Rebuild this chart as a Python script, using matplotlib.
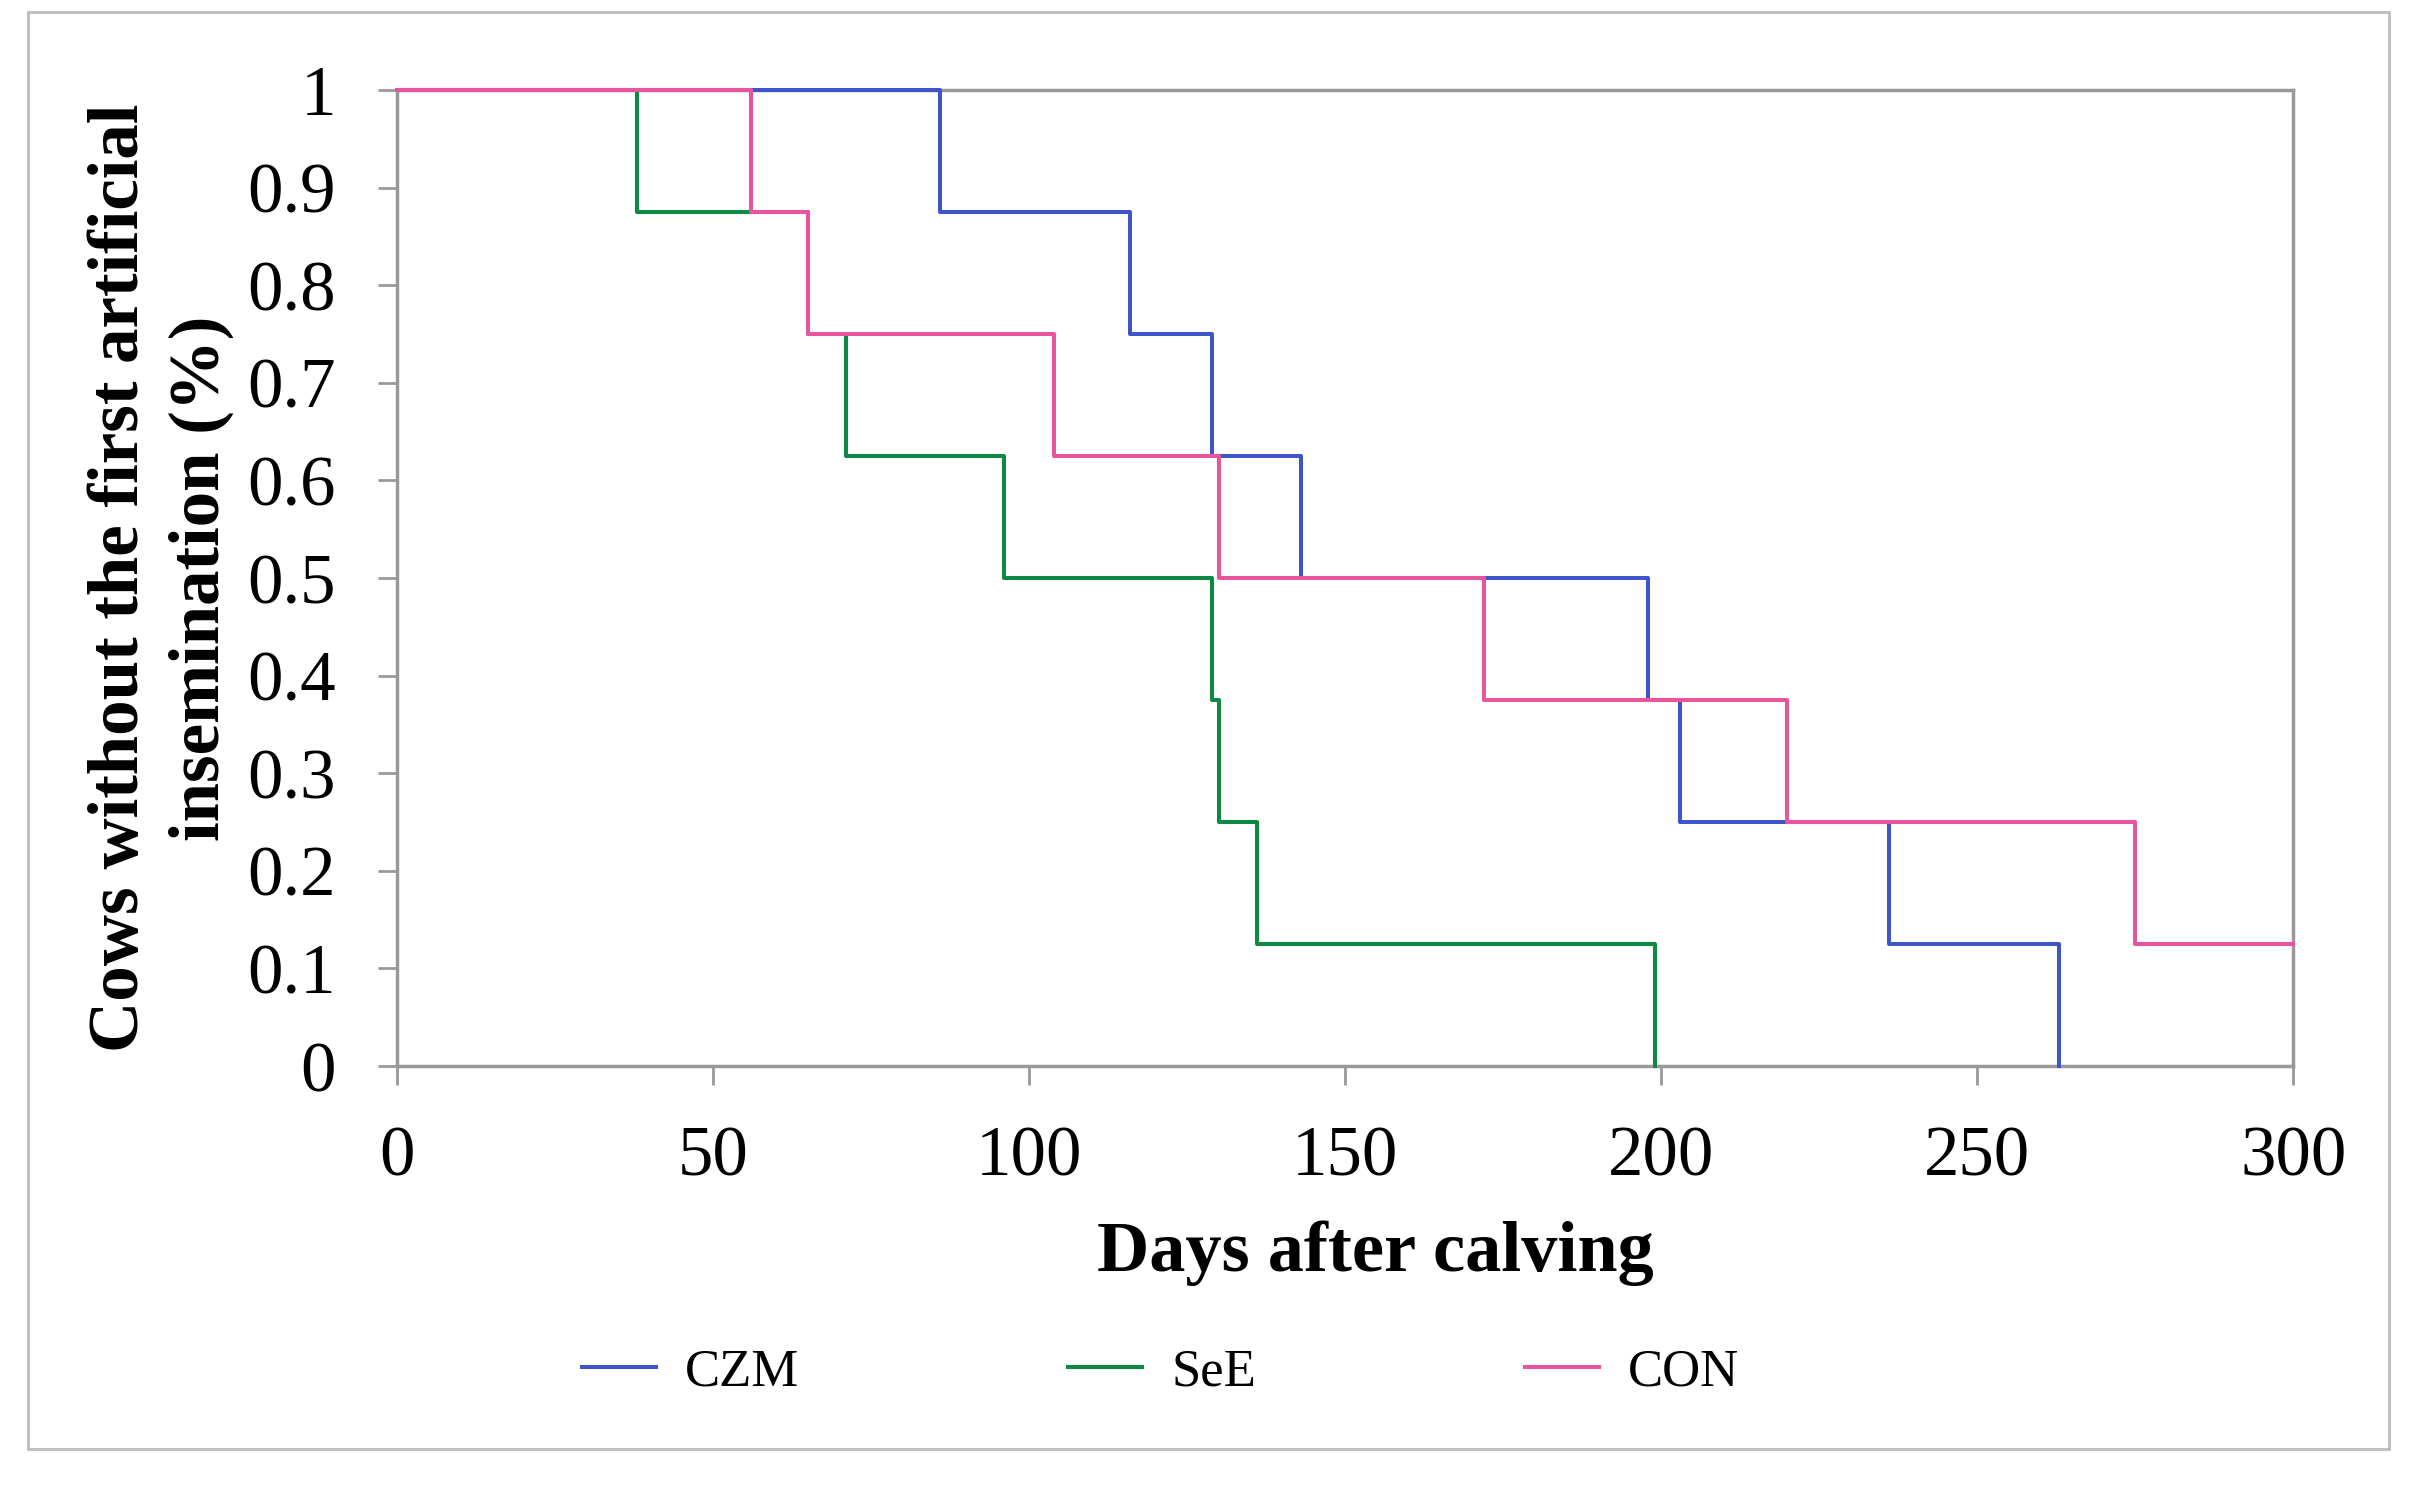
import matplotlib.pyplot as plt
from matplotlib.patches import Rectangle

plt.rcParams['font.family'] = ['Liberation Serif', 'DejaVu Serif']

# step curves: day of each drop and the proportion left after it
czm_days = [0, 86, 116, 129, 143, 198, 203, 236, 263]
czm_surv = [1, 0.875, 0.75, 0.625, 0.5, 0.375, 0.25, 0.125, 0]
see_days = [0, 38, 65, 71, 96, 129, 130, 136, 199]
see_surv = [1, 0.875, 0.75, 0.625, 0.5, 0.375, 0.25, 0.125, 0]
con_days = [0, 56, 65, 104, 130, 172, 220, 275, 300]
con_surv = [1, 0.875, 0.75, 0.625, 0.5, 0.375, 0.25, 0.125, 0.125]

labels = ['CZM', 'SeE', 'CON']
colors = ['#3d55c8', '#0c8a42', '#e6559d']

xticks = [0, 50, 100, 150, 200, 250, 300]
yticks = [0, 0.1, 0.2, 0.3, 0.4, 0.5, 0.6, 0.7, 0.8, 0.9, 1]
ytick_labels = ['0', '0.1', '0.2', '0.3', '0.4', '0.5', '0.6', '0.7', '0.8', '0.9', '1']

fig = plt.figure(figsize=(24.23, 14.86), dpi=100)
ax = fig.add_axes([0.1638, 0.2826, 0.7826, 0.6568])

series = [(czm_days, czm_surv), (see_days, see_surv), (con_days, con_surv)]
for (d, s), lab, c in zip(series, labels, colors):
    ax.step(d, s, where='post', color=c, lw=2.9, label=lab, clip_on=False)

ax.set_xlim(0, 300)
ax.set_ylim(0, 1)
ax.set_xticks(xticks)
ax.set_yticks(yticks)
ax.set_yticklabels(ytick_labels)

for sp in ax.spines.values():
    sp.set_color('#999999')
    sp.set_linewidth(2.5)
    sp.set_zorder(0)
ax.tick_params(axis='both', colors='#999999', length=14, width=2, labelcolor='black',
               labelsize=51)
ax.tick_params(axis='y', pad=30)
ax.tick_params(axis='x', pad=29)

ax.set_xlabel('Days after calving', fontsize=52, fontweight='bold')
ax.xaxis.set_label_coords(0.516, -0.158)
ax.set_ylabel('Cows without the first artificial\ninsemination (%)', fontsize=51,
              fontweight='bold', linespacing=1.3)
ax.yaxis.set_label_coords(-0.086, 0.5)

ax.legend(loc='center', ncol=3, frameon=False, fontsize=38,
          handlelength=1.4, handletextpad=0.55, columnspacing=5.1,
          bbox_to_anchor=(0.479, 1 - 1372 / 1486), bbox_transform=fig.transFigure)

# outer frame around the whole chart
fig.patches.append(Rectangle((28 / 2423, 1 - 1449 / 1486), (2389 - 28) / 2423,
                             (1449 - 12) / 1486, transform=fig.transFigure,
                             fill=False, edgecolor='#bcbcbc', lw=2))

plt.savefig('out.png', dpi=100)
